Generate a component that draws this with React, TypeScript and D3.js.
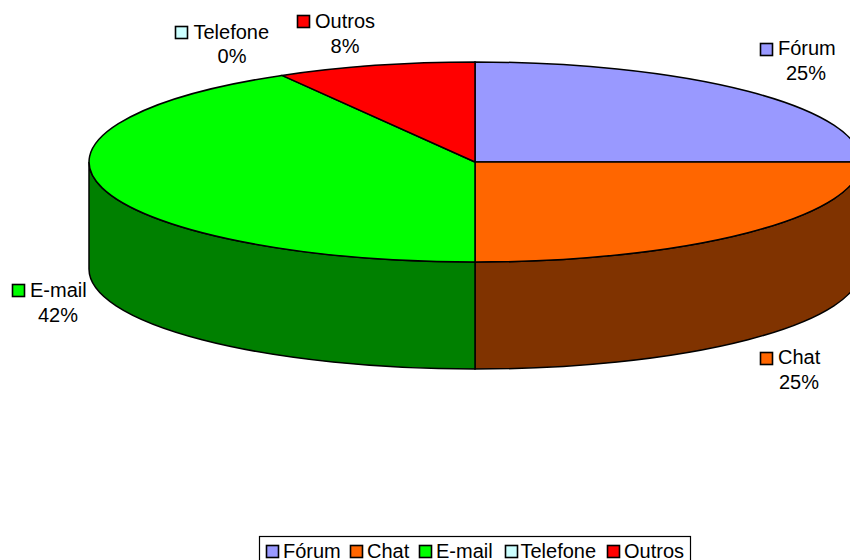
import React from "react";
import * as d3 from "d3";

const categories = ["Fórum", "Chat", "E-mail", "Telefone", "Outros"];
const values = [3, 3, 5, 0, 1];
const percentLabels = ["25%", "25%", "42%", "0%", "8%"];
const topColors = ["#9999FF", "#FF6600", "#00FF00", "#CCFFFF", "#FF0000"];
const sideColors = ["#4D4D80", "#803300", "#008000", "#668080", "#800000"];
const swatchX = [760, 760, 12, 175, 297];
const swatchY = [43, 352, 284, 26, 15];
const textX = [778, 778, 30, 193.5, 315];
const textY = [55, 364, 297, 39, 28];
const pctX = [806, 799, 58, 232, 345];
const pctY = [80, 389, 322, 63, 53];
const legendX = [266, 350, 419, 505, 607];
const legendTextX = [283, 367, 436, 520.5, 624];

const W = 850, H = 560;
const cx = 475, cy = 162, rx = 386, ry = 100, depth = 107;
const font = "'Liberation Sans', Arial, sans-serif";
const fs = 20;
const sw = 1.5;

const px = (a: number) => cx + rx * Math.sin(a);
const py = (a: number) => cy - ry * Math.cos(a);

function wallPath(a0: number, a1: number) {
  const s = Math.max(a0, Math.PI / 2), e = Math.min(a1, (3 * Math.PI) / 2);
  if (e <= s) return null;
  return `M${px(s)},${py(s)}A${rx},${ry} 0 0 1 ${px(e)},${py(e)}L${px(e)},${py(e) + depth}A${rx},${ry} 0 0 0 ${px(s)},${py(s) + depth}Z`;
}

function Swatch({ x, y, fill }: { x: number; y: number; fill: string }) {
  return <rect x={x + 0.5} y={y + 0.5} width={12} height={12} fill={fill} stroke="#000" strokeWidth={1.6} />;
}

export default function App() {
  const arcs = d3.pie<number>().sort(null)(values);
  const arc = d3.arc<d3.PieArcDatum<number>>().innerRadius(0).outerRadius(1);
  return (
    <svg width={W} height={H} style={{ position: "absolute", left: 0, top: 0, background: "#fff" }} fontFamily={font} fontSize={fs} fill="#000">
      {arcs.map((d, i) => {
        const p = wallPath(d.startAngle, d.endAngle);
        return p ? <path key={i} d={p} fill={sideColors[i]} stroke="#000" strokeWidth={sw} /> : null;
      })}
      <g transform={`translate(${cx},${cy}) scale(${rx},${ry})`}>
        {arcs.map((d, i) =>
          d.value > 0 ? (
            <path key={i} d={arc(d) as string} fill={topColors[i]} stroke="#000" strokeWidth={sw} vectorEffect="non-scaling-stroke" />
          ) : null
        )}
      </g>
      {categories.map((c, i) => (
        <g key={c}>
          <Swatch x={swatchX[i]} y={swatchY[i]} fill={topColors[i]} />
          <text x={textX[i]} y={textY[i]}>{c}</text>
          <text x={pctX[i]} y={pctY[i]} textAnchor="middle">{percentLabels[i]}</text>
        </g>
      ))}
      <rect x={259.5} y={536.5} width={431} height={30} fill="#fff" stroke="#000" strokeWidth={1.2} />
      {categories.map((c, i) => (
        <g key={c}>
          <Swatch x={legendX[i]} y={545} fill={topColors[i]} />
          <text x={legendTextX[i]} y={558}>{c}</text>
        </g>
      ))}
    </svg>
  );
}
